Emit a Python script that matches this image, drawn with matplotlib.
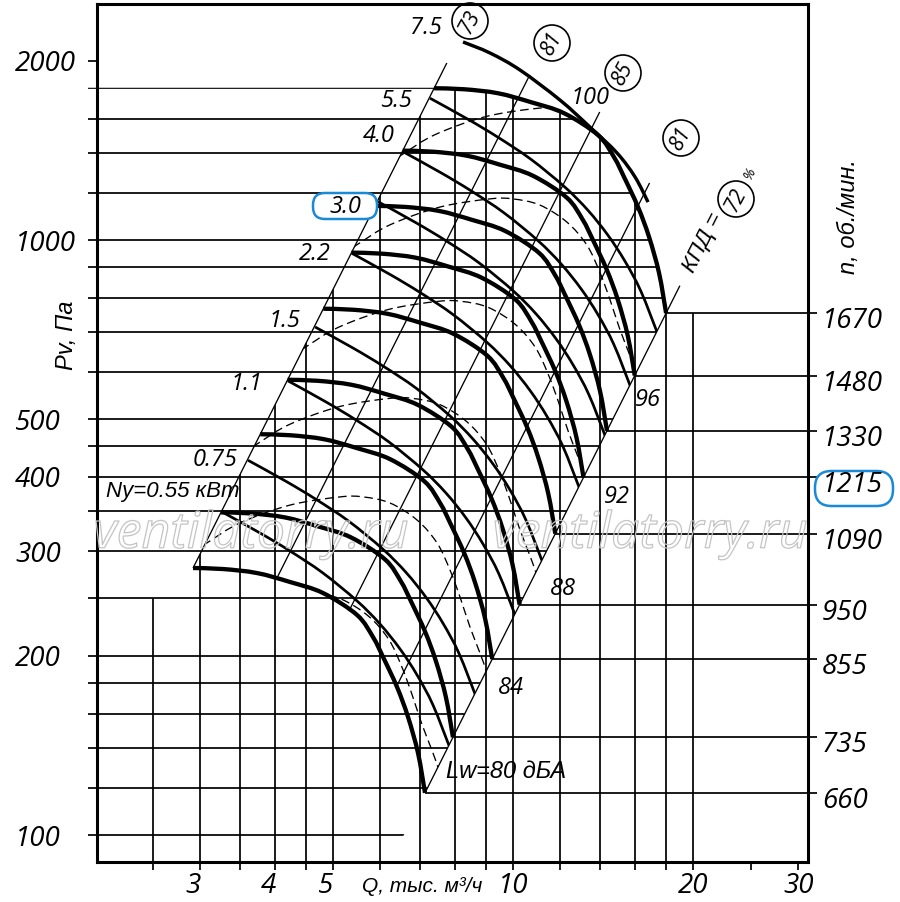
import numpy as np
import matplotlib
matplotlib.use("Agg")
import matplotlib.pyplot as plt
from matplotlib.path import Path
from matplotlib.patches import PathPatch, Ellipse, FancyBboxPatch
from matplotlib.transforms import IdentityTransform, ScaledTranslation
from matplotlib.ticker import NullLocator
import matplotlib.patheffects as pe

plt.rcParams['font.family'] = ['Open Sans', 'DejaVu Sans']
plt.rcParams['font.style'] = 'italic'
CYR = ['Liberation Sans', 'DejaVu Sans']   # oblique-style Cyrillic like the reference

# ------------------------------------------------------------------
# data
# ------------------------------------------------------------------
# fan characteristic Pv(Q) at 660 rpm (Q: thousand m3/h, Pv: Pa)
base_rpm = 660
base_q = [2.917, 3.274, 3.731, 4.238, 4.811, 5.485, 5.833, 6.062, 6.398, 6.675, 6.937, 7.126]
base_p = [281.0, 279.9, 275.6, 266.2, 255.1, 234.3, 215.1, 199.2, 177.3, 157.9, 137.3, 117.7]
rpm_values = [660, 735, 855, 950, 1090, 1215, 1330, 1480, 1670]
rpm_highlight = 1215

# constant motor-power line for 0.55 kW and the start flow of every power line
power_q = [3.262, 3.775, 4.238, 4.811, 5.485, 5.993, 6.473, 6.910, 7.348, 7.845]
power_p = [349.1, 321.8, 300.1, 275.6, 247.4, 226.2, 205.4, 185.8, 165.4, 140.0]
power_labels = ["0.55", "0.75", "1.1", "1.5", "2.2", "3.0", "4.0", "5.5"]
power_q_start = [3.262, 3.605, 4.204, 4.666, 5.380, 5.946, 6.549, 7.264]
power_highlight = "3.0"

# upper 7.5 kW line
top_label = "7.5"
top_q = [8.249, 9.152, 10.27, 11.98, 13.45, 14.93, 16.00, 16.82]
top_p = [2152, 2062, 1931, 1719, 1548, 1400, 1276, 1158]

# sound power line Lw = 84 dBA and the flow factors of the other Lw lines
lw_q = [2.669, 3.078, 3.494, 4.238, 5.136, 5.613, 6.228, 6.910, 7.463, 7.845,
        8.154, 8.474, 8.806, 9.047, 9.330]
lw_p = [282.1, 309.7, 334.5, 358.5, 370.0, 370.0, 361.4, 338.4, 309.7, 278.9,
        251.2, 223.6, 202.2, 187.2, 168.6]
lw_db = [80, 84, 88, 92, 96, 100]
lw_q_factor = [0.83, 1.0, 1.21, 1.46, 1.78, 2.12]

# efficiency lines  P = 1000*(Q/Q1000)^2 ; first and last are the field borders
eta_pct = [73, 81, 85, 81, 72]
eta_q1000_inner = [7.75, 10.9, 15.15]
eta_p_top = [1984, 1893, 1641, 1247, 838]

# grid and ticks
grid_q = [2.5, 3, 3.5, 4, 4.5, 5, 6, 7, 8, 9, 10, 12, 14, 16, 18, 20]
grid_p = [100, 120, 140, 160, 180, 200, 250, 300, 350, 400, 450, 500,
          600, 700, 800, 900, 1000, 1200, 1400, 1600, 1800]
x_ticks = [3, 4, 5, 10, 20, 30]
y_ticks = [100, 200, 300, 400, 500, 1000, 2000]
x_tick_only = [25, 30]
y_tick_only = [2000]
grid_q_short_top = 250      # the 2.5 line stops at this pressure

# ------------------------------------------------------------------
# layout
# ------------------------------------------------------------------
W, H = 900, 902
fig = plt.figure(figsize=(W / 100, H / 100), dpi=100)
L, R, T, B = 97, 808, 4, 862
ax = fig.add_axes([L / W, 1 - B / H, (R - L) / W, (B - T) / H])
ax.set_xscale('log')
ax.set_yscale('log')


def q_at(px):
    return 10 ** (1 + (px - 513) / 598.0)


def p_at(py):
    return 10 ** (3 - (py - 240) / 595.0)


ax.set_xlim(q_at(L), q_at(R))
ax.set_ylim(p_at(B), p_at(T))
ax.set_autoscale_on(False)

LW_GRID = 1.25
LW_ETA = 0.95
LW_THICK = 3.1
LW_MED = 1.95
LW_DASH = 0.95
K = 'black'


def bez(qs, ps):
    u = np.log10(np.asarray(qs, float))
    v = np.log10(np.asarray(ps, float))
    pts = np.column_stack([u, v])
    n = len(pts)
    verts, codes = [], []
    for i in range(n - 1):
        p0 = pts[max(i - 1, 0)]
        p1 = pts[i]
        p2 = pts[i + 1]
        p3 = pts[min(i + 2, n - 1)]
        c1 = p1 + (p2 - p0) / 6.0
        c2 = p2 - (p3 - p1) / 6.0
        verts += [c1, c2, p2]
        codes += [Path.CURVE4] * 3
    return pts[0], verts, codes


def curve_path(qs, ps):
    p0, vv, cc = bez(qs, ps)
    V = np.vstack([p0] + vv)
    return Path(10 ** V, [Path.MOVETO] + cc)


bq = np.array(base_q)
bp = np.array(base_p)
k_top = rpm_values[-1] / base_rpm
tq, tp = bq * k_top, bp * k_top ** 2

# operating field: left border, top curve, right border, bottom curve
vs = [np.log10([bq[0], bp[0]]), np.log10([tq[0], tp[0]])]
cs = [Path.MOVETO, Path.LINETO]
_, vv, cc = bez(tq, tp); vs += vv; cs += cc
vs.append(np.log10([bq[-1], bp[-1]])); cs.append(Path.LINETO)
_, vv, cc = bez(bq[::-1], bp[::-1]); vs += vv; cs += cc
vs.append(vs[0]); cs.append(Path.CLOSEPOLY)
field_clip = PathPatch(Path(10 ** np.array(vs), cs), transform=ax.transData)

# region where vertical grid lines are drawn
q_lb_short = bq[0] * np.sqrt(grid_q_short_top / bp[0])
vs = [np.log10([1.5, 50]), np.log10([1.5, grid_q_short_top]),
      np.log10([q_lb_short, grid_q_short_top]), np.log10([tq[0], tp[0]])]
cs = [Path.MOVETO, Path.LINETO, Path.LINETO, Path.LINETO]
_, vv, cc = bez(tq, tp); vs += vv; cs += cc
vs += [np.log10([40, tp[-1]]), np.log10([40, 50]), np.log10([1.5, 50])]
cs += [Path.LINETO, Path.LINETO, Path.CLOSEPOLY]
vgrid_clip = PathPatch(Path(10 ** np.array(vs), cs), transform=ax.transData)

# region where horizontal grid lines are drawn
q_rb_low = bq[-1] * np.sqrt(50 / bp[-1])
vs = [np.log10([1.5, 50]), np.log10([1.5, tp[0] * 1.002]),
      np.log10([tq[0], tp[0] * 1.002]), np.log10([tq[0], tp[0]])]
cs = [Path.MOVETO, Path.LINETO, Path.LINETO, Path.LINETO]
_, vv, cc = bez(tq, tp); vs += vv; cs += cc
vs += [np.log10([q_rb_low, 50]), np.log10([1.5, 50])]
cs += [Path.LINETO, Path.CLOSEPOLY]
hgrid_clip = PathPatch(Path(10 ** np.array(vs), cs), transform=ax.transData)

# ---- grid ----
for q in grid_q:
    ln, = ax.plot([q, q], [p_at(870), 5000], color=K, lw=LW_GRID, zorder=1,
                  solid_capstyle='butt')
    ln.set_clip_path(vgrid_clip)
    ln.set_clip_box(None)
for p in grid_p:
    ln, = ax.plot([q_at(88), 40], [p, p], color=K, lw=LW_GRID, zorder=1,
                  solid_capstyle='butt')
    ln.set_clip_path(hgrid_clip)
    ln.set_clip_box(None)
for q in x_tick_only:
    ax.plot([q, q], [p_at(870), p_at(B)], color=K, lw=LW_GRID, clip_on=False,
            solid_capstyle='butt', zorder=1)
for p in y_tick_only:
    ax.plot([q_at(88), q_at(L)], [p, p], color=K, lw=LW_GRID, clip_on=False,
            solid_capstyle='butt', zorder=1)

# ---- rpm lines to the right axis ----
for n in rpm_values:
    k = n / base_rpm
    ax.plot([bq[-1] * k, q_at(817)], [bp[-1] * k * k] * 2, color=K, lw=LW_GRID,
            clip_on=False, solid_capstyle='butt', zorder=1)


# ---- efficiency lines ----
def hit_base(q1000):
    u = np.log10(bq)
    v = np.log10(bp)
    f = v - (3 + 2 * (u - np.log10(q1000)))
    i = np.where(np.sign(f[:-1]) != np.sign(f[1:]))[0][0]
    t = f[i] / (f[i] - f[i + 1])
    uu = u[i] + t * (u[i + 1] - u[i])
    return 10 ** uu, 10 ** (3 + 2 * (uu - np.log10(q1000)))


q1000_all = ([bq[0] * np.sqrt(1000 / bp[0])] + eta_q1000_inner +
             [bq[-1] * np.sqrt(1000 / bp[-1])])
for j, (q1000, ptop) in enumerate(zip(q1000_all, eta_p_top)):
    if j == 0:
        qb, pb = bq[0], bp[0]
    elif j == len(q1000_all) - 1:
        qb, pb = bq[-1], bp[-1]
    else:
        qb, pb = hit_base(q1000)
    qt = q1000 * np.sqrt(ptop / 1000)
    ax.plot([qb, qt], [pb, ptop], color=K, lw=LW_ETA, zorder=2, clip_on=False,
            solid_capstyle='butt')

# ---- sound power lines (dashed) ----
lq, lp = np.array(lw_q), np.array(lw_p)
for f in lw_q_factor:
    pp = PathPatch(curve_path(lq * f, lp * f * f), fill=False, ec=K, lw=LW_DASH,
                   linestyle=(0, (6.5, 3.5)), zorder=3)
    ax.add_patch(pp)
    pp.set_clip_path(field_clip)

# ---- motor power lines ----
pq, ppw = np.array(power_q), np.array(power_p)
for q0 in power_q_start:
    s = q0 / pq[0]
    pp = PathPatch(curve_path(pq * s, ppw * s * s), fill=False, ec=K, lw=LW_MED,
                   zorder=4, capstyle='butt')
    ax.add_patch(pp)
    pp.set_clip_path(field_clip)

# upper 7.5 kW line
ax.add_patch(PathPatch(curve_path(top_q, top_p), fill=False, ec=K, lw=LW_MED + 0.5,
                       zorder=4, capstyle='butt'))

# ---- fan curves ----
for n in rpm_values:
    k = n / base_rpm
    ax.add_patch(PathPatch(curve_path(bq * k, bp * k * k), fill=False, ec=K,
                           lw=LW_THICK, zorder=5, capstyle='butt'))

# ---- axes ----
for sp in ax.spines.values():
    sp.set_linewidth(2.2)
    sp.set_zorder(6)
ax.set_xticks(x_ticks)
ax.set_xticklabels([str(v) for v in x_ticks])
ax.set_yticks(y_ticks)
ax.set_yticklabels([str(v) for v in y_ticks])
ax.xaxis.set_minor_locator(NullLocator())
ax.yaxis.set_minor_locator(NullLocator())
ax.tick_params(axis='both', which='both', length=0, labelsize=20)
ax.tick_params(axis='x', pad=7)
ax.tick_params(axis='y', pad=82 * 0.72)
for lbl in ax.get_yticklabels():
    lbl.set_horizontalalignment('left')
shift_left = ScaledTranslation(-0.07, 0, fig.dpi_scale_trans)
for lbl in ax.get_xticklabels():
    if lbl.get_text() in ('3', '4', '5'):
        lbl.set_transform(lbl.get_transform() + shift_left)


# ------------------------------------------------------------------
# texts
# ------------------------------------------------------------------
def ftext(x, y, s, **kw):
    return fig.text(x / W, 1 - y / H, s, **kw)


# highlight boxes (inside the axes layer, under the labels)
BLUE = '#1a8ad6'
for (x0, y0, w, h) in [(313, 193, 64, 26), (815, 471, 78, 35)]:
    bx = FancyBboxPatch((x0, H - y0 - h), w, h,
                        boxstyle=f"round,pad=0,rounding_size={h / 2 - 1}",
                        transform=IdentityTransform(), fc='white', ec=BLUE,
                        lw=1.8, zorder=7, clip_on=False)
    ax.add_artist(bx)

ftext(67, 335, "Pv, Па", rotation=90, ha='center', va='center', fontsize=17,
      family=CYR)
ftext(848, 217, "n, об./мин.", rotation=90, ha='center', va='center', fontsize=17,
      family=CYR)
ftext(362, 887, "Q, тыс. м³/ч", ha='left', va='center', fontsize=15, family=CYR)

# rpm labels on the right
off = ScaledTranslation(0, -8 / 100, fig.dpi_scale_trans)
for n in rpm_values:
    k = n / base_rpm
    ax.text(q_at(822), bp[-1] * k * k, str(n), ha='left', va='center',
            fontsize=20, transform=ax.transData + off, clip_on=False, zorder=8)

# power labels
power_label_pos = [(239, 492), (238, 460), (262, 384), (300, 321), (331, 254),
                   (345, 207), (395, 136), (412, 101)]
for i, (lab, (x, y)) in enumerate(zip(power_labels, power_label_pos)):
    ha = 'center' if lab == power_highlight else 'right'
    if i == 0:
        ftext(x, y, f"Ny={lab} кВт", ha=ha, va='center', fontsize=16, family=CYR,
              zorder=8)
    else:
        ftext(x, y, lab, ha=ha, va='center', fontsize=17, zorder=8)
ftext(442, 28, top_label, ha='right', va='center', fontsize=17)

# Lw labels
lw_label_pos = [(506, 772), (511, 688), (563, 589), (617, 497), (648, 400), (590, 98)]
for i, (db, (x, y)) in enumerate(zip(lw_db, lw_label_pos)):
    if i == 0:
        ftext(x, y, f"Lw={db} дБА", ha='center', va='center', fontsize=17, family=CYR)
    else:
        ftext(x, y, str(db), ha='center', va='center', fontsize=17)

# efficiency circles
circ_pos = [(470, 21), (552, 43), (623, 73), (681, 138), (736, 199)]
for v, (x, y) in zip(eta_pct, circ_pos):
    fig.add_artist(Ellipse((x / W, 1 - y / H), 36 / W, 36 / H,
                           transform=fig.transFigure, fill=False, ec=K, lw=1.2))
    ftext(x, y + 1, str(v), rotation=62, ha='center', va='center', fontsize=15,
          rotation_mode='anchor')
ftext(703, 243, "КПД =", rotation=63, ha='center', va='center', fontsize=16,
      rotation_mode='anchor', family=CYR)
ftext(750, 174, "%", rotation=63, ha='center', va='center', fontsize=10,
      rotation_mode='anchor')

# watermark
for xc in (251, 650):
    t = ftext(xc, 535, "ventilatorry.ru", ha='center', va='center', fontsize=36,
              color=(1, 1, 1, 0), zorder=9)
    t.set_path_effects([pe.Stroke(linewidth=0.9, foreground='#c4c4c4')])

fig.savefig("out.png", dpi=100)
